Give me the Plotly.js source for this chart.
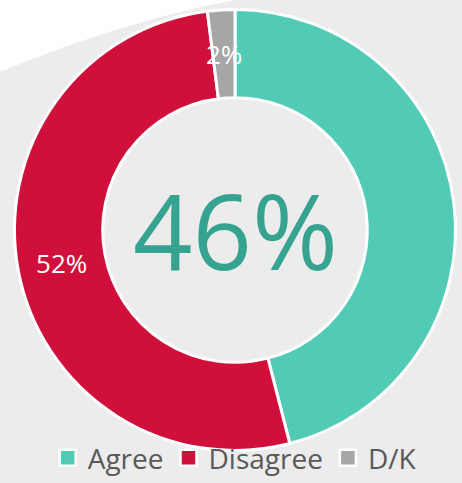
<!DOCTYPE html>
<html>
<head>
<meta charset="utf-8">
<script src="https://cdn.plot.ly/plotly-3.0.1.min.js"></script>
<style>html,body{margin:0;padding:0;background:#ececec;}#chart{width:462px;height:483px;}</style>
</head>
<body>
<div id="chart"></div>
<script>
const labels = ["Agree", "Disagree", "D/K"];
const values = [46, 52, 2];
const colors = ["#52cbb6", "#d0103a", "#a6a6a6"];
const sliceText = ["", "52%", "2%"];
const centerText = "46%";

const W = 462, H = 483, HOLE = 0.6;
const FONT = "Open Sans, sans-serif";
const LABEL_SIZE = 26;

const pie = {
  type: "pie",
  labels: labels,
  values: values,
  text: sliceText.map((t, i) => (values[i] / values.reduce((a, b) => a + b, 0) < 0.05 ? "" : t)),
  textinfo: "text",
  textposition: "inside",
  insidetextorientation: "horizontal",
  insidetextfont: {family: FONT, size: LABEL_SIZE, color: "#ffffff"},
  hole: HOLE,
  sort: false,
  direction: "clockwise",
  rotation: 0,
  marker: {colors: colors, line: {color: "#ffffff", width: 3}},
  domain: {x: [0.0314, 0.9859], y: [0.0673, 0.9803]},
  hoverinfo: "none",
  showlegend: false
};

// legend proxies (square symbols like the reference)
const legendTraces = labels.map((lab, i) => ({
  type: "scatter", mode: "markers", x: [null], y: [null], name: lab,
  marker: {symbol: "square", size: 16, color: colors[i], line: {color: "#ffffff", width: 2.5}},
  hoverinfo: "none", showlegend: true
}));

const layout = {
  width: W, height: H,
  margin: {l: 0, r: 0, t: 0, b: 0, autoexpand: false},
  paper_bgcolor: "#ececec",
  plot_bgcolor: "rgba(0,0,0,0)",
  xaxis: {visible: false}, yaxis: {visible: false},
  showlegend: true,
  legend: {
    orientation: "h", x: 0.508, xanchor: "center", y: 0, yanchor: "bottom",
    font: {family: FONT, size: 28, color: "#595959"},
    bgcolor: "rgba(0,0,0,0)", itemsizing: "trace", itemwidth: 30
  },
  shapes: [{
    type: "path", xref: "paper", yref: "paper", layer: "below",
    path: "M 0 1 L 0 0.851 Q 0.2597 0.9545 0.5087 1 Z",
    fillcolor: "#ffffff", line: {width: 0}
  }],
  annotations: [{
    text: centerText, xref: "paper", yref: "paper",
    x: 0.5087, y: 0.524, xanchor: "center", yanchor: "middle", showarrow: false,
    font: {family: FONT, size: 104, color: "#35a38f"}
  }]
};

Plotly.newPlot("chart", [pie].concat(legendTraces), layout, {displayModeBar: false, staticPlot: true}).then(gd => {
  // small slices: place their labels at the ring middle, unscaled, using the pie's own geometry
  const cd0 = gd.calcdata[0][0];
  const total = values.reduce((a, b) => a + b, 0);
  const extra = [];
  let cum = 0;
  values.forEach((v, i) => {
    const frac = v / total;
    if (frac < 0.05 && sliceText[i]) {
      const theta = 2 * Math.PI * (cum + frac / 2);
      const rm = cd0.r * (1 + HOLE) / 2;
      const px = cd0.cx + rm * Math.sin(theta);
      const py = cd0.cy - rm * Math.cos(theta);
      extra.push({
        text: sliceText[i], xref: "paper", yref: "paper",
        x: px / W, y: 1 - py / H, xanchor: "center", yanchor: "middle", showarrow: false,
        font: {family: FONT, size: LABEL_SIZE, color: "#ffffff"}
      });
    }
    cum += frac;
  });
  return Plotly.relayout(gd, {annotations: layout.annotations.concat(extra)});
});
</script>
</body>
</html>
